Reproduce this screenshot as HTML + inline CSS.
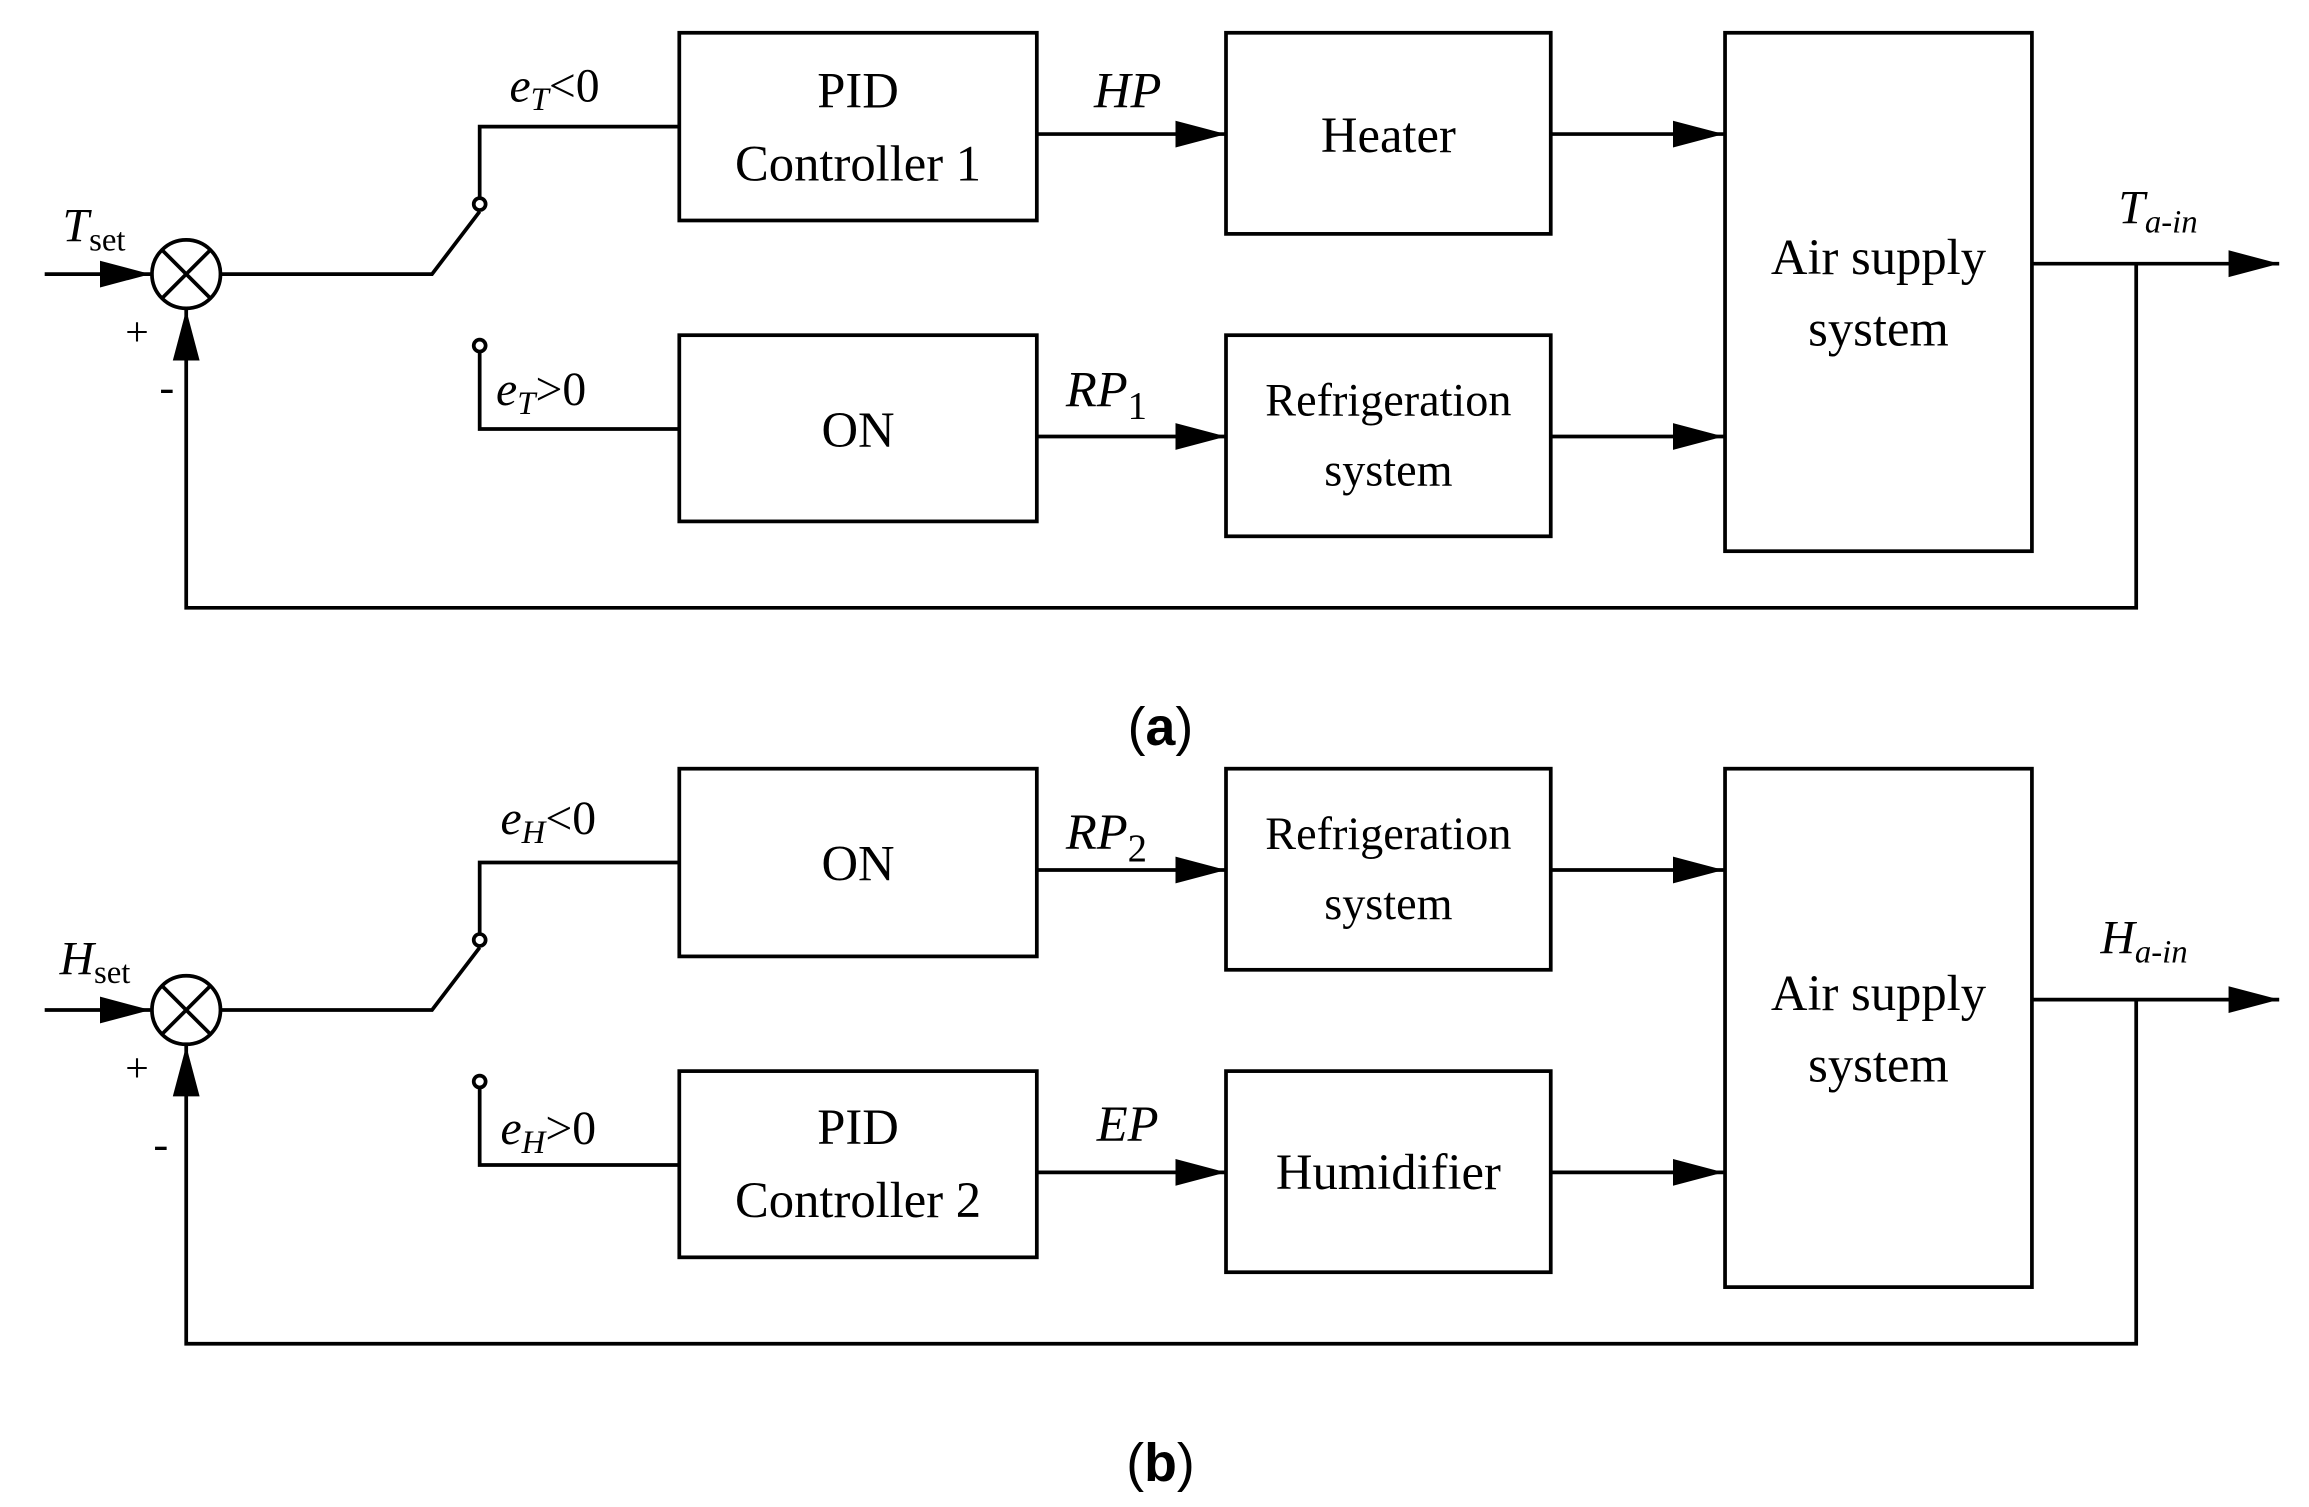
<!DOCTYPE html>
<html><head><meta charset="utf-8"><style>html,body{margin:0;padding:0;background:#fff}svg{display:block}</style></head>
<body>
<svg width="2309" height="1507" viewBox="0 0 1550 1011.6" preserveAspectRatio="none" xmlns="http://www.w3.org/2000/svg" font-family="Liberation Serif, serif">
<defs>
<marker id="ar" markerWidth="34" markerHeight="22" refX="34" refY="11" orient="auto" markerUnits="userSpaceOnUse"><path d="M0,2 L34,11 L0,20 Z" fill="#000"/></marker>
</defs>
<g id="a" stroke="#000" stroke-width="2.5" fill="none">
<line x1="30" y1="184" x2="101" y2="184" marker-end="url(#ar)"/>
<circle cx="125" cy="184" r="23"/>
<line x1="109" y1="168" x2="141" y2="200"/><line x1="141" y1="168" x2="109" y2="200"/>
<polyline points="148,184 290,184 322,142"/>
<circle cx="322" cy="137" r="4"/>
<polyline points="322,133 322,85 456,85"/>
<circle cx="322" cy="232" r="4"/>
<polyline points="322,236 322,288 456,288"/>
<rect x="456" y="22" width="240" height="126"/>
<rect x="823" y="22" width="218" height="135"/>
<rect x="456" y="225" width="240" height="125"/>
<rect x="823" y="225" width="218" height="135"/>
<rect x="1158" y="22" width="206" height="348"/>
<line x1="696" y1="90" x2="823" y2="90" marker-end="url(#ar)"/>
<line x1="1041" y1="90" x2="1157" y2="90" marker-end="url(#ar)"/>
<line x1="696" y1="293" x2="823" y2="293" marker-end="url(#ar)"/>
<line x1="1041" y1="293" x2="1157" y2="293" marker-end="url(#ar)"/>
<line x1="1364" y1="177" x2="1530" y2="177" marker-end="url(#ar)"/>
<polyline points="1434,177 1434,408 125,408 125,208" marker-end="url(#ar)"/>
</g>
<g fill="#000" font-size="34" text-anchor="middle" stroke="none">
<text x="576" y="72">PID</text><text x="576" y="121">Controller 1</text>
<text x="932" y="102">Heater</text>
<text x="576" y="300">ON</text>
<text x="932" y="279" font-size="31">Refrigeration</text><text x="932" y="326" font-size="31">system</text>
<text x="1261" y="184">Air supply</text><text x="1261" y="232">system</text>
<text x="757" y="72" font-style="italic">HP</text>
<text x="770" y="273" font-style="italic" text-anchor="end">RP<tspan font-style="normal" font-size="26" dy="8">1</tspan></text>
<text x="42" y="162" font-style="italic" text-anchor="start" font-size="32">T<tspan font-style="normal" font-size="22" dy="6">set</tspan></text>
<text x="342" y="68" font-style="italic" text-anchor="start" font-size="32">e<tspan font-size="22" dy="6">T</tspan><tspan font-style="normal" dy="-6">&lt;0</tspan></text>
<text x="333" y="272" font-style="italic" text-anchor="start" font-size="32">e<tspan font-size="22" dy="6">T</tspan><tspan font-style="normal" dy="-6">&gt;0</tspan></text>
<text x="1422" y="150" font-style="italic" text-anchor="start" font-size="32">T<tspan font-size="22" dy="6">a-in</tspan></text>
<text x="92" y="232" font-size="28">+</text><text x="112" y="270" font-size="30">-</text>
<text x="779" y="500" font-family="Liberation Sans, sans-serif" font-size="36">(<tspan font-weight="bold">a</tspan>)</text>
</g>
<g transform="translate(0,494)">
<g stroke="#000" stroke-width="2.5" fill="none">
<line x1="30" y1="184" x2="101" y2="184" marker-end="url(#ar)"/>
<circle cx="125" cy="184" r="23"/>
<line x1="109" y1="168" x2="141" y2="200"/><line x1="141" y1="168" x2="109" y2="200"/>
<polyline points="148,184 290,184 322,142"/>
<circle cx="322" cy="137" r="4"/>
<polyline points="322,133 322,85 456,85"/>
<circle cx="322" cy="232" r="4"/>
<polyline points="322,236 322,288 456,288"/>
<rect x="456" y="22" width="240" height="126"/>
<rect x="823" y="22" width="218" height="135"/>
<rect x="456" y="225" width="240" height="125"/>
<rect x="823" y="225" width="218" height="135"/>
<rect x="1158" y="22" width="206" height="348"/>
<line x1="696" y1="90" x2="823" y2="90" marker-end="url(#ar)"/>
<line x1="1041" y1="90" x2="1157" y2="90" marker-end="url(#ar)"/>
<line x1="696" y1="293" x2="823" y2="293" marker-end="url(#ar)"/>
<line x1="1041" y1="293" x2="1157" y2="293" marker-end="url(#ar)"/>
<line x1="1364" y1="177" x2="1530" y2="177" marker-end="url(#ar)"/>
<polyline points="1434,177 1434,408 125,408 125,208" marker-end="url(#ar)"/>
</g>
<g fill="#000" font-size="34" text-anchor="middle" stroke="none">
<text x="576" y="97">ON</text>
<text x="932" y="76" font-size="31">Refrigeration</text><text x="932" y="123" font-size="31">system</text>
<text x="576" y="274">PID</text><text x="576" y="323">Controller 2</text>
<text x="932" y="304">Humidifier</text>
<text x="1261" y="184">Air supply</text><text x="1261" y="232">system</text>
<text x="757" y="272" font-style="italic">EP</text>
<text x="770" y="76" font-style="italic" text-anchor="end">RP<tspan font-style="normal" font-size="26" dy="8">2</tspan></text>
<text x="40" y="160" font-style="italic" text-anchor="start" font-size="32">H<tspan font-style="normal" font-size="22" dy="6">set</tspan></text>
<text x="336" y="66" font-style="italic" text-anchor="start" font-size="32">e<tspan font-size="22" dy="6">H</tspan><tspan font-style="normal" dy="-6">&lt;0</tspan></text>
<text x="336" y="274" font-style="italic" text-anchor="start" font-size="32">e<tspan font-size="22" dy="6">H</tspan><tspan font-style="normal" dy="-6">&gt;0</tspan></text>
<text x="1410" y="146" font-style="italic" text-anchor="start" font-size="32">H<tspan font-size="22" dy="6">a-in</tspan></text>
<text x="92" y="232" font-size="28">+</text><text x="108" y="284" font-size="30">-</text>
<text x="779" y="500" font-family="Liberation Sans, sans-serif" font-size="36">(<tspan font-weight="bold">b</tspan>)</text>
</g>
</g>
</svg>
</body></html>
